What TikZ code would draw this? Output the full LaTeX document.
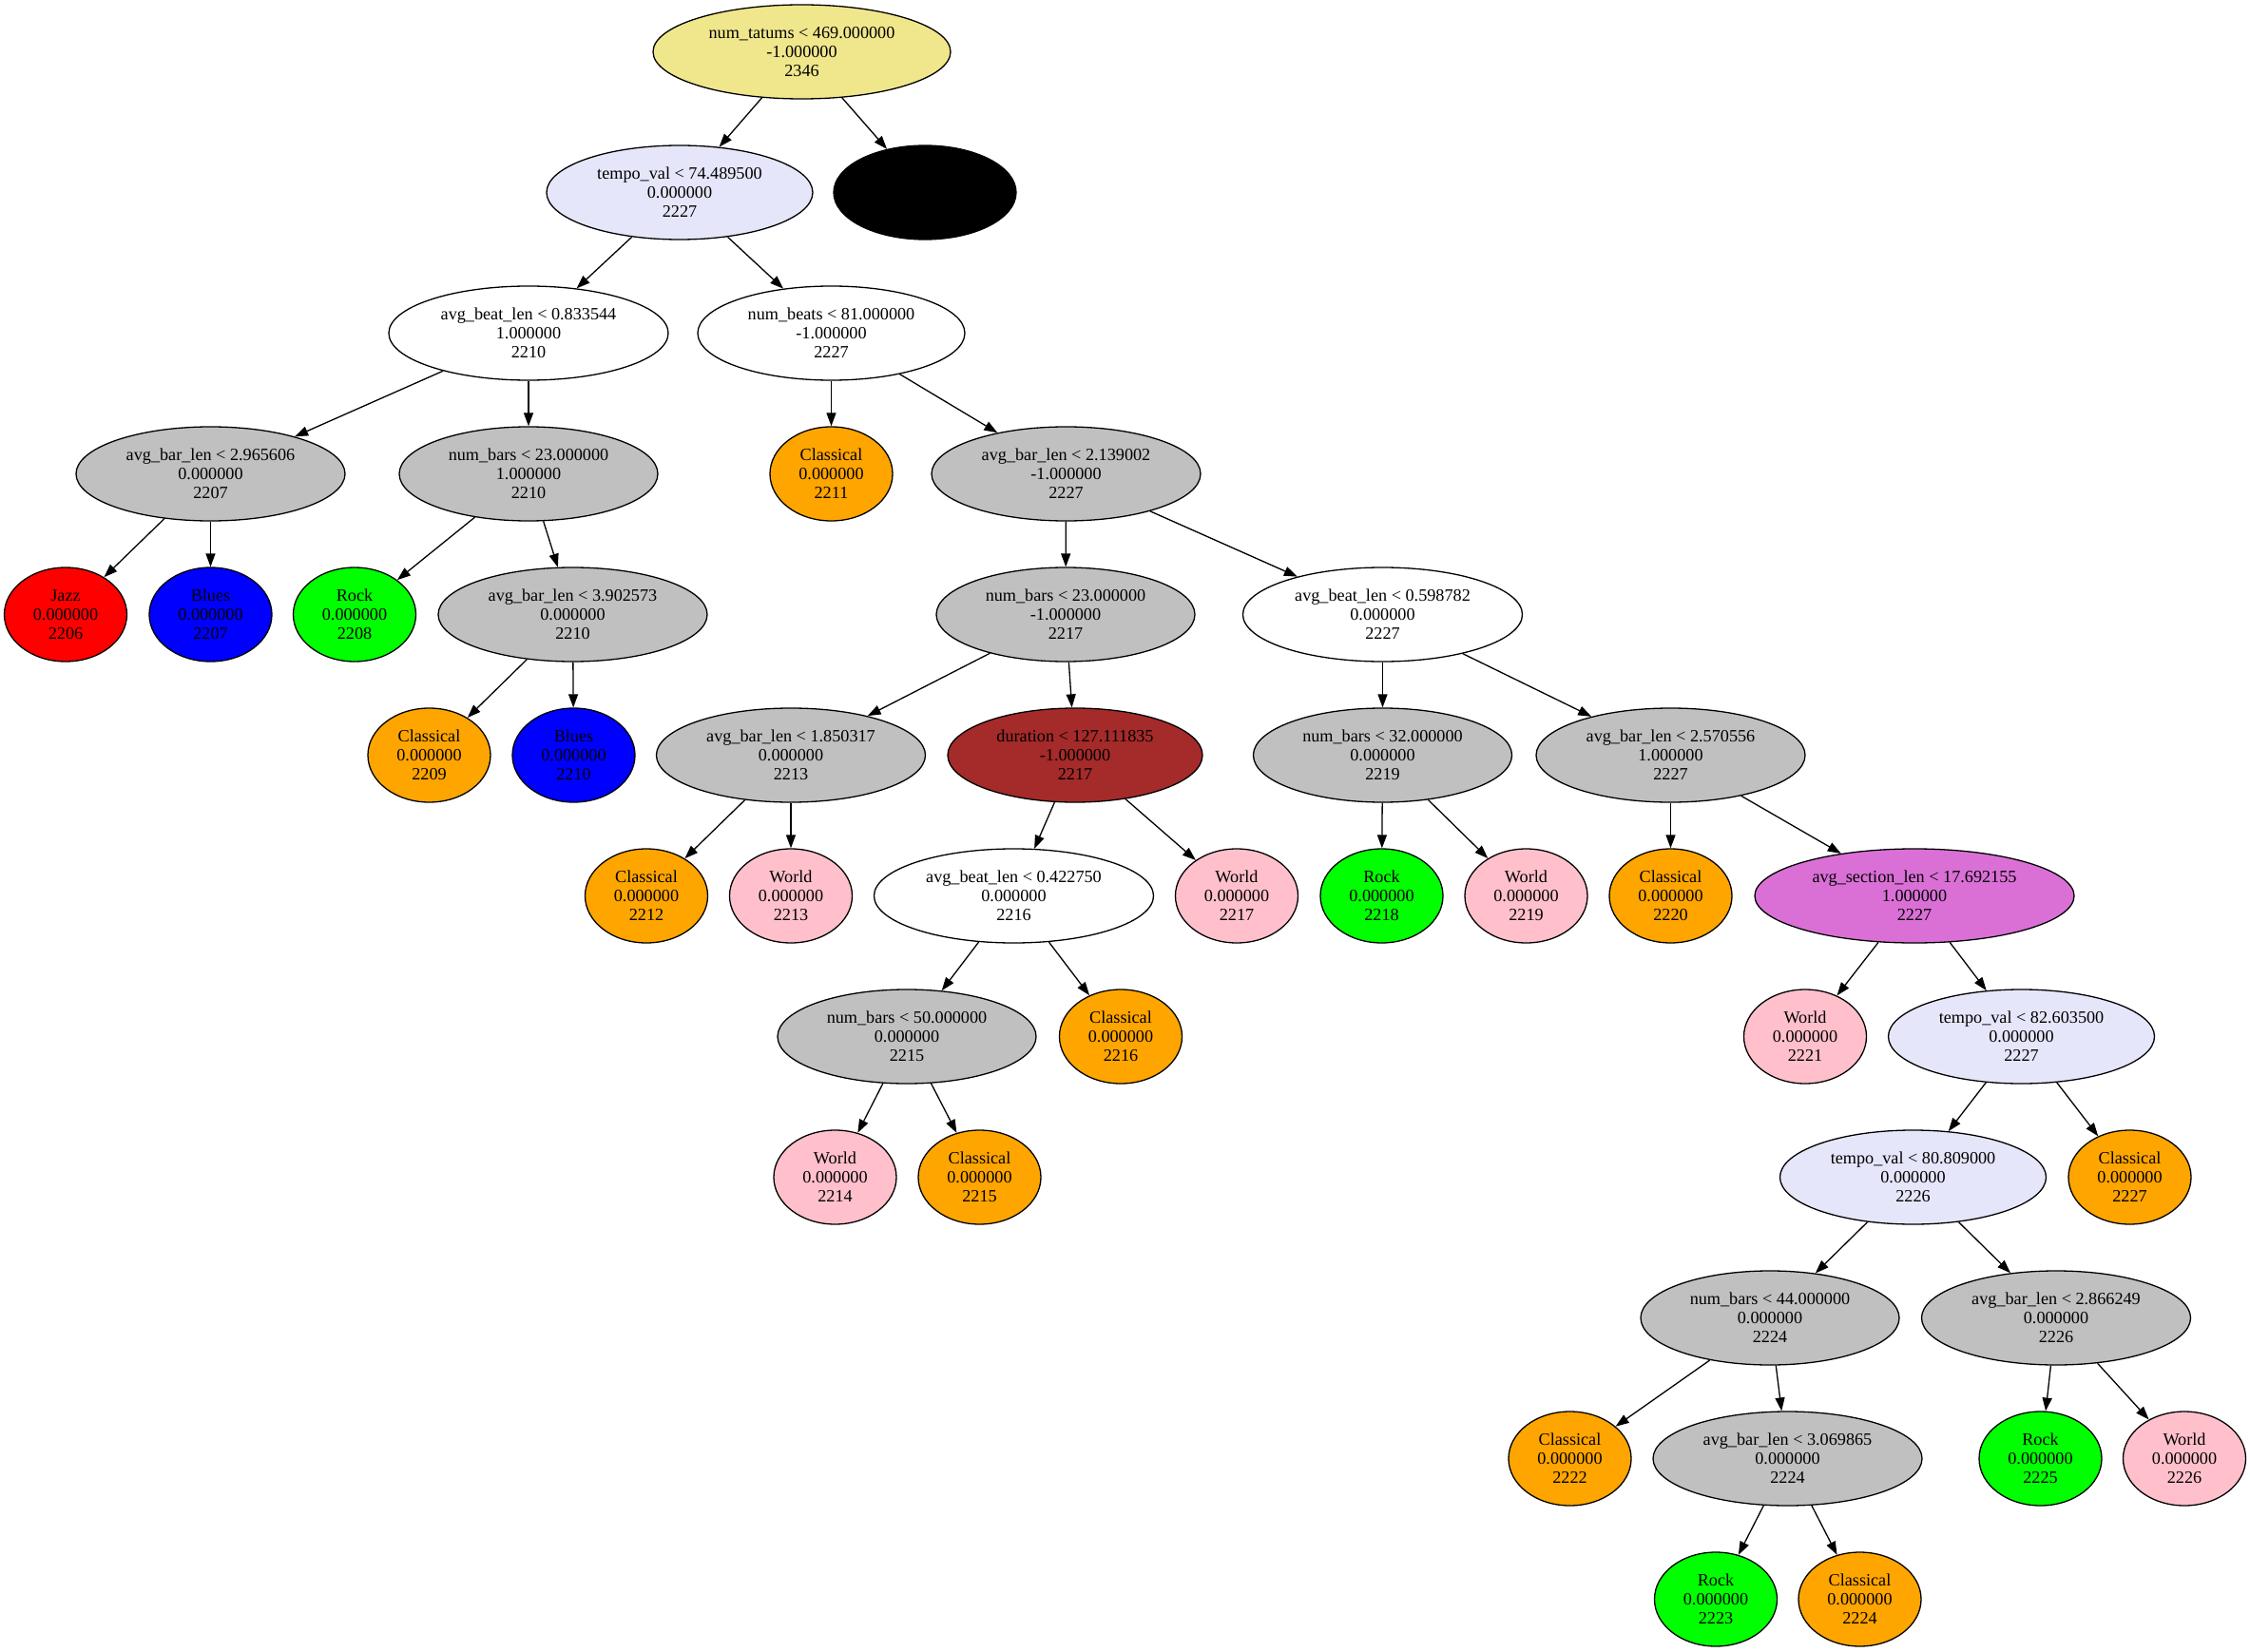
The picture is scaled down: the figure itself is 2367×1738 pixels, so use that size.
\documentclass[tikz,border=0pt]{standalone}
\usepackage{fontspec}
\setmainfont{Liberation Serif}
\usetikzlibrary{shapes.geometric,arrows.meta}
\definecolor{cKhaki}{HTML}{F0E68C}
\definecolor{cLavender}{HTML}{E6E6FA}
\definecolor{cSilver}{HTML}{C0C0C0}
\definecolor{cOrange}{HTML}{FFA500}
\definecolor{cLime}{HTML}{00FF00}
\definecolor{cPink}{HTML}{FFC0CB}
\definecolor{cBrown}{HTML}{A52A2A}
\definecolor{cOrchid}{HTML}{DA70D6}
\definecolor{cRed}{HTML}{FF0000}
\definecolor{cBlue}{HTML}{0000FF}
\begin{document}
\begin{tikzpicture}[x=0.5pt,y=-0.5pt,
  tn/.style={ellipse,draw=black,line width=0.65pt,inner sep=0pt,minimum height=49.5pt,
             align=center,font=\fontsize{9.1}{10}\selectfont},
  lf/.style={tn,minimum width=64.5pt},
  w/.style={minimum width=#1},
  khaki/.style={fill=cKhaki},
  lav/.style={fill=cLavender},
  wht/.style={fill=white},
  gry/.style={fill=cSilver},
  org/.style={fill=cOrange},
  lime/.style={fill=cLime},
  pnk/.style={fill=cPink},
  brn/.style={fill=cBrown},
  orc/.style={fill=cOrchid},
  redf/.style={fill=cRed},
  bluf/.style={fill=cBlue},
  blk/.style={fill=black},
  link/.style={draw=black,line width=0.65pt,-{Triangle[length=7pt,width=5pt]}}
]
\useasboundingbox (0,0) rectangle (2367,1738);

% rank 0
\node[tn,khaki,w=156.5pt] (root) at (843.5,54.5) {num\_tatums < 469.000000\\-1.000000\\2346};
% rank 1
\node[tn,lav,w=140pt] (tvA) at (715,202.5) {tempo\_val < 74.489500\\0.000000\\2227};
\node[tn,blk,w=96pt] (dark) at (973,202.5) {};
% rank 2
\node[tn,wht,w=147pt] (ablA) at (556,350.5) {avg\_beat\_len < 0.833544\\1.000000\\2210};
\node[tn,wht,w=140.5pt] (nbeats) at (874.5,350.5) {num\_beats < 81.000000\\-1.000000\\2227};
% rank 3
\node[tn,gry,w=141.5pt] (abrA) at (221.5,498.5) {avg\_bar\_len < 2.965606\\0.000000\\2207};
\node[tn,gry,w=136pt] (nbA) at (556,498.5) {num\_bars < 23.000000\\1.000000\\2210};
\node[lf,org] (c2211) at (874.5,498.5) {Classical\\0.000000\\2211};
\node[tn,gry,w=141.5pt] (abrC) at (1121.5,498.5) {avg\_bar\_len < 2.139002\\-1.000000\\2227};
% rank 4
\node[lf,redf] (jazz) at (69,646.5) {Jazz\\0.000000\\2206};
\node[lf,bluf] (b2207) at (221.5,646.5) {Blues\\0.000000\\2207};
\node[lf,lime] (r2208) at (373,646.5) {Rock\\0.000000\\2208};
\node[tn,gry,w=141.5pt] (abrB) at (602.5,646.5) {avg\_bar\_len < 3.902573\\0.000000\\2210};
\node[tn,gry,w=136pt] (nbB) at (1121,646.5) {num\_bars < 23.000000\\-1.000000\\2217};
\node[tn,wht,w=147pt] (ablB) at (1454.5,646.5) {avg\_beat\_len < 0.598782\\0.000000\\2227};
% rank 5
\node[lf,org] (c2209) at (451.5,794.5) {Classical\\0.000000\\2209};
\node[lf,bluf] (b2210) at (603.5,794.5) {Blues\\0.000000\\2210};
\node[tn,gry,w=141.5pt] (abrD) at (832,794.5) {avg\_bar\_len < 1.850317\\0.000000\\2213};
\node[tn,brn,w=134pt] (dur) at (1131,794.5) {duration < 127.111835\\-1.000000\\2217};
\node[tn,gry,w=136pt] (nbD) at (1454.5,794.5) {num\_bars < 32.000000\\0.000000\\2219};
\node[tn,gry,w=141.5pt] (abrE) at (1757.5,794.5) {avg\_bar\_len < 2.570556\\1.000000\\2227};
% rank 6
\node[lf,org] (c2212) at (680,942.5) {Classical\\0.000000\\2212};
\node[lf,pnk] (w2213) at (832,942.5) {World\\0.000000\\2213};
\node[tn,wht,w=147pt] (ablC) at (1066.5,942.5) {avg\_beat\_len < 0.422750\\0.000000\\2216};
\node[lf,pnk] (w2217) at (1301,942.5) {World\\0.000000\\2217};
\node[lf,lime] (r2218) at (1453.5,942.5) {Rock\\0.000000\\2218};
\node[lf,pnk] (w2219) at (1605.5,942.5) {World\\0.000000\\2219};
\node[lf,org] (c2220) at (1757.5,942.5) {Classical\\0.000000\\2220};
\node[tn,orc,w=168pt] (asl) at (2014,942.5) {avg\_section\_len < 17.692155\\1.000000\\2227};
% rank 7
\node[tn,gry,w=136pt] (nbC) at (954,1090.5) {num\_bars < 50.000000\\0.000000\\2215};
\node[lf,org] (c2216) at (1179,1090.5) {Classical\\0.000000\\2216};
\node[lf,pnk] (w2221) at (1899,1090.5) {World\\0.000000\\2221};
\node[tn,lav,w=140pt] (tvB) at (2126.5,1090.5) {tempo\_val < 82.603500\\0.000000\\2227};
% rank 8
\node[lf,pnk] (w2214) at (878.5,1238.5) {World\\0.000000\\2214};
\node[lf,org] (c2215) at (1030.5,1238.5) {Classical\\0.000000\\2215};
\node[tn,lav,w=140pt] (tvC) at (2012.5,1238.5) {tempo\_val < 80.809000\\0.000000\\2226};
\node[lf,org] (c2227) at (2240.5,1238.5) {Classical\\0.000000\\2227};
% rank 9
\node[tn,gry,w=136pt] (nbE) at (1862,1386.5) {num\_bars < 44.000000\\0.000000\\2224};
\node[tn,gry,w=141.5pt] (abrF) at (2163,1386.5) {avg\_bar\_len < 2.866249\\0.000000\\2226};
% rank 10
\node[lf,org] (c2222) at (1651.5,1534.5) {Classical\\0.000000\\2222};
\node[tn,gry,w=141.5pt] (abrG) at (1880.5,1534.5) {avg\_bar\_len < 3.069865\\0.000000\\2224};
\node[lf,lime] (r2225) at (2146.5,1534.5) {Rock\\0.000000\\2225};
\node[lf,pnk] (w2226) at (2298,1534.5) {World\\0.000000\\2226};
% rank 11
\node[lf,lime] (r2223) at (1805,1682.5) {Rock\\0.000000\\2223};
\node[lf,org] (c2224) at (1956.5,1682.5) {Classical\\0.000000\\2224};

% connectors
\foreach \a/\b in {root/tvA,root/dark,tvA/ablA,tvA/nbeats,ablA/abrA,ablA/nbA,
  abrA/jazz,abrA/b2207,nbA/r2208,nbA/abrB,abrB/c2209,abrB/b2210,
  nbeats/c2211,nbeats/abrC,abrC/nbB,abrC/ablB,nbB/abrD,nbB/dur,
  abrD/c2212,abrD/w2213,dur/ablC,dur/w2217,ablC/nbC,ablC/c2216,
  nbC/w2214,nbC/c2215,ablB/nbD,ablB/abrE,nbD/r2218,nbD/w2219,
  abrE/c2220,abrE/asl,asl/w2221,asl/tvB,tvB/tvC,tvB/c2227,
  tvC/nbE,tvC/abrF,nbE/c2222,nbE/abrG,abrG/r2223,abrG/c2224,
  abrF/r2225,abrF/w2226}
  \draw[link] (\a) -- (\b);
\end{tikzpicture}
\end{document}
